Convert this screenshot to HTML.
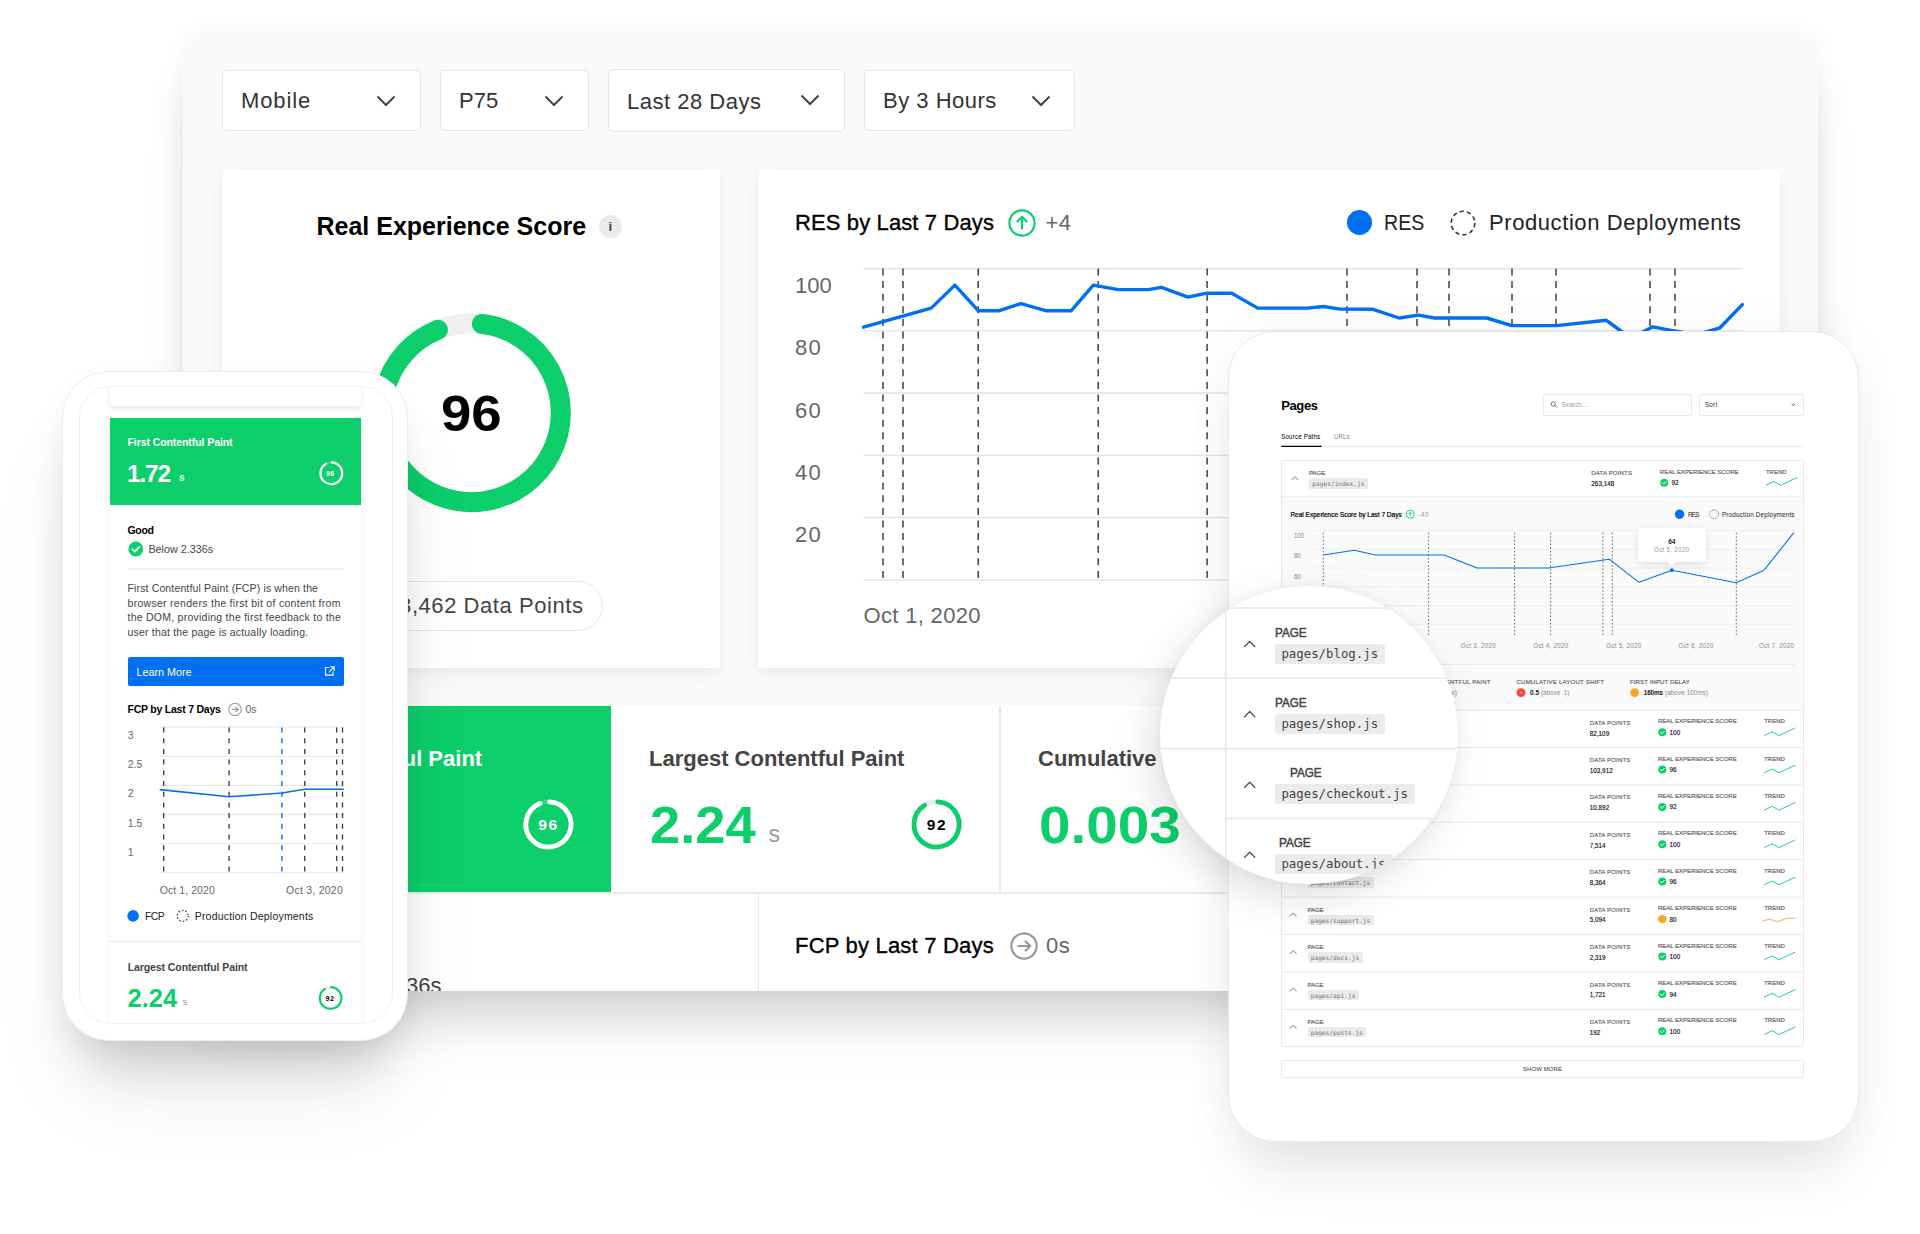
<!DOCTYPE html>
<html lang="en">
<head>
<meta charset="utf-8">
<title>Analytics</title>
<style>
*{box-sizing:border-box;margin:0;padding:0}
html,body{width:1920px;height:1234px;overflow:hidden;background:#fff}
body{position:relative;font-family:"Liberation Sans",sans-serif;color:#111}
.abs,.t{position:absolute}
.t{white-space:nowrap;line-height:1}
.mono{font-family:"DejaVu Sans Mono","Liberation Mono",monospace}
svg{position:absolute;overflow:visible}

/* main dashboard panel */
#panel{position:absolute;left:183px;top:31px;width:1635px;height:960px;background:#fafafa;border-radius:20px 20px 0 0;
 box-shadow:0 0 22px rgba(0,0,0,.04),0 36px 50px -14px rgba(0,0,0,.14),0 50px 70px -20px rgba(0,0,0,.06)}
#panelclip{position:absolute;left:183px;top:31px;width:1635px;height:960px;border-radius:20px 20px 0 0;overflow:hidden}
.dd{position:absolute;top:70px;height:61px;background:#fff;border:1px solid #e6e6e6;border-radius:5px}
.dd .t{left:18px;top:19px;font-size:22px;color:#333}
.dd svg{top:24px;width:20px;height:12px}
.pg{position:absolute;left:-183px;top:-31px;width:1920px;height:1234px}
.ylab{left:795px;font-size:22px;color:#666}
.big{font-size:51.5px;font-weight:700;color:#0cce6b;transform-origin:0 50%}
.card{position:absolute;background:#fff;box-shadow:0 6px 16px rgba(0,0,0,.06),0 0 3px rgba(0,0,0,.03);border-radius:3px}

#phone{position:absolute;left:62px;top:371px;width:346px;height:669.5px;background:#fff;border-radius:47px;border:1px solid #ededed;
 box-shadow:0 40px 50px -18px rgba(0,0,0,.14),0 60px 90px -20px rgba(0,0,0,.10),-4px 10px 30px rgba(0,0,0,.03)}
#phonescreen{position:absolute;left:78.5px;top:386px;width:314px;height:637.5px;border-radius:32px;background:#fff;border:1px solid #f0f0f0;overflow:hidden}
.pg2{position:absolute;left:-79.5px;top:-387px;width:1920px;height:1234px}

#tablet{position:absolute;left:1228px;top:331px;width:630.5px;height:811px;background:#fff;border-radius:47px;border:1px solid #e9e9e9;
 box-shadow:0 40px 60px -16px rgba(0,0,0,.11),0 0 50px rgba(0,0,0,.04)}
#tabletclip{position:absolute;left:1229px;top:332px;width:628.5px;height:809px;border-radius:46px;overflow:hidden}
.pg3{position:absolute;left:-1229px;top:-332px;width:1920px;height:1234px}

#mag{position:absolute;left:1159.7px;top:585.6px;width:298.6px;height:298.6px;border-radius:50%;background:#fff;overflow:hidden;
 box-shadow:-8px 14px 40px rgba(0,0,0,.13),0 0 12px rgba(0,0,0,.04)}
.pg4{position:absolute;left:-1159.7px;top:-585.6px;width:1920px;height:1234px}
</style>
</head>
<body>

<div id="panel"></div>
<div id="panelclip"><div class="pg">
  <!-- dropdowns -->
  <div class="dd" style="left:222px;width:199px"><span class="t" style="letter-spacing:.9px">Mobile</span><svg style="left:153px" viewBox="0 0 20 12"><path d="M1.5 1.5l8.5 8.5 8.5-8.5" fill="none" stroke="#444" stroke-width="2"/></svg></div>
  <div class="dd" style="left:440px;width:149px"><span class="t">P75</span><svg style="left:103px" viewBox="0 0 20 12"><path d="M1.5 1.5l8.5 8.5 8.5-8.5" fill="none" stroke="#444" stroke-width="2"/></svg></div>
  <div class="dd" style="left:608px;width:237px;top:69px;height:63px"><span class="t" style="letter-spacing:.5px;top:21px">Last 28 Days</span><svg style="left:191px;top:24px" viewBox="0 0 20 12"><path d="M1.5 1.5l8.5 8.5 8.5-8.5" fill="none" stroke="#444" stroke-width="2"/></svg></div>
  <div class="dd" style="left:864px;width:211px"><span class="t" style="letter-spacing:.5px">By 3 Hours</span><svg style="left:166px" viewBox="0 0 20 12"><path d="M1.5 1.5l8.5 8.5 8.5-8.5" fill="none" stroke="#444" stroke-width="2"/></svg></div>

  <!-- card 1 : Real Experience Score -->
  <div class="card" style="left:222px;top:170px;width:498px;height:498px"></div>
  <span class="t" style="left:316.5px;top:214px;font-size:25px;font-weight:700;color:#000">Real Experience Score</span>
  <div class="abs" style="left:599px;top:214.5px;width:23px;height:23px;border-radius:50%;background:#eaeaea"></div>
  <span class="t" style="left:608.6px;top:220px;font-size:13px;font-weight:700;color:#444">i</span>
  <svg style="left:0;top:0" width="1920" height="1234">
    <circle cx="471.4" cy="412.7" r="89.4" fill="none" stroke="#efefef" stroke-width="20"/>
    <path d="M481.83 323.91A89.4 89.4 0 1 1 437.91 329.81" fill="none" stroke="#0cce6b" stroke-width="20" stroke-linecap="round"/>
  </svg>
  <span class="t" style="left:441px;top:389px;font-size:50px;font-weight:700;color:#000;transform:scaleX(1.09);transform-origin:0 50%">96</span>
  <div class="abs" style="left:354px;top:581px;width:249px;height:50px;border:1px solid #e8e8e8;border-radius:25px;background:#fff"></div>
  <span class="t" style="left:373.5px;top:595px;font-size:22px;color:#444;letter-spacing:.56px">263,462 Data Points</span>

  <!-- card 2 : RES chart -->
  <div class="card" style="left:758px;top:170px;width:1022px;height:498px"></div>
  <span class="t" style="left:795px;top:212px;font-size:22px;color:#000;letter-spacing:.12px;-webkit-text-stroke:.35px #000">RES by Last 7 Days</span>
  <svg style="left:1008px;top:208.5px" width="28" height="28" viewBox="0 0 28 28"><circle cx="14" cy="14" r="12.6" fill="none" stroke="#0cce6b" stroke-width="2.2"/><path d="M14 20.5V8M8.8 13l5.2-5.2 5.2 5.2" fill="none" stroke="#0cce6b" stroke-width="2.2"/></svg>
  <span class="t" style="left:1045.5px;top:212px;font-size:22px;color:#666;letter-spacing:.5px">+4</span>
  <div class="abs" style="left:1346.5px;top:210px;width:25px;height:25px;border-radius:50%;background:#0070f3"></div>
  <span class="t" style="left:1384px;top:212px;font-size:22px;color:#222;transform:scaleX(.89);transform-origin:0 50%">RES</span>
  <svg style="left:1450px;top:209.5px" width="26" height="26" viewBox="0 0 26 26"><circle cx="13" cy="13" r="11.8" fill="none" stroke="#333" stroke-width="1.6" stroke-dasharray="4.2 3.21"/></svg>
  <span class="t" style="left:1489px;top:212px;font-size:22px;color:#222;letter-spacing:.58px">Production Deployments</span>
  <svg style="left:0;top:0" width="1920" height="1234">
    <g fill="none" stroke="#e6e6e6" stroke-width="1.6"><path d="M863.5 268.6H1743"/><path d="M863.5 330.8H1743"/><path d="M863.5 393.1H1743"/><path d="M863.5 455.3H1743"/><path d="M863.5 517.6H1743"/><path d="M863.5 580H1743"/></g>
    <g fill="none" stroke="#333" stroke-width="1.4" stroke-dasharray="7 5.6"><path d="M883 268.5V580"/><path d="M903 268.5V580"/><path d="M978.2 268.5V580"/><path d="M1098.2 268.5V580"/><path d="M1207.1 268.5V580"/><path d="M1347 268.5V580"/><path d="M1417 268.5V580"/><path d="M1449 268.5V580"/><path d="M1512 268.5V580"/><path d="M1556 268.5V580"/><path d="M1650 268.5V580"/><path d="M1675 268.5V580"/></g>
    <polyline points="863.5,326.6 931.2,307.5 954.9,284.5 978.2,310.1 999.3,310.1 1021,303 1045.7,310.1 1071.3,310.1 1093.3,284.5 1118.3,289 1148.4,289 1161.4,286.7 1188,296.5 1206.8,292.6 1231.7,292.6 1257.7,307.5 1307.3,307.5 1323.5,305.9 1340,308.5 1373,308.7 1399.2,317.4 1418.5,314.5 1434.2,317.4 1486.7,317.4 1511.8,325 1556.7,325 1606.3,319.7 1623.8,332.4 1638,333.6 1653,326.2 1673.3,330.2 1696.7,334 1720,327.2 1742.3,304" fill="none" stroke="#0070f3" stroke-width="3.4" stroke-linejoin="round" stroke-linecap="round" transform="translate(0 .6)"/>
  </svg>
  <span class="t ylab" style="top:275.4px">100</span><span class="t ylab" style="top:337.2px;letter-spacing:1.3px">80</span><span class="t ylab" style="top:399.6px;letter-spacing:1.3px">60</span><span class="t ylab" style="top:462px;letter-spacing:1.3px">40</span><span class="t ylab" style="top:524.4px;letter-spacing:1.3px">20</span>
  <span class="t" style="left:863.5px;top:604.5px;font-size:22px;color:#666;letter-spacing:.33px">Oct 1, 2020</span>

  <!-- metrics row -->
  <div class="abs" style="left:222px;top:706px;width:1558px;height:285px;background:#fff"></div>
  <div class="abs" style="left:222px;top:706px;width:389px;height:186.5px;background:#0cce6b"></div>
  <div class="abs" style="left:222px;top:892px;width:1558px;height:1.5px;background:#eaeaea"></div>
  <div class="abs" style="left:999.3px;top:706px;width:1.5px;height:186px;background:#eaeaea"></div>
  <div class="abs" style="left:757.6px;top:892px;width:1.5px;height:100px;background:#eaeaea"></div>
  <span class="t" style="left:258.5px;top:748px;font-size:22px;font-weight:700;color:#fff">First Contentful Paint</span>
  <span class="t big" style="left:258px;top:800px;color:#fff;transform:scaleX(1.055)">1.72</span>
  <svg style="left:0;top:0" width="1920" height="1234">
    <circle cx="548.4" cy="824.4" r="22.6" fill="none" stroke="rgba(255,255,255,.18)" stroke-width="4.8"/>
    <path d="M549.58 801.83A22.6 22.6 0 1 1 539.93 803.45" fill="none" stroke="#fff" stroke-width="4.8" stroke-linecap="round"/>
    <circle cx="936.6" cy="824.4" r="22.6" fill="none" stroke="#ececec" stroke-width="4.8"/>
    <path d="M937.78 801.83A22.6 22.6 0 1 1 924.62 805.23" fill="none" stroke="#0cce6b" stroke-width="4.8" stroke-linecap="round"/>
  </svg>
  <span class="t" style="left:538.3px;top:817px;font-size:15.5px;font-weight:700;color:#fff;letter-spacing:1.6px">96</span>
  <span class="t" style="left:926.8px;top:817px;font-size:15.5px;font-weight:700;color:#000;letter-spacing:1.6px">92</span>
  <span class="t" style="left:649px;top:748px;font-size:22px;font-weight:700;color:#444">Largest Contentful Paint</span>
  <span class="t big" style="left:649.5px;top:800px;transform:scaleX(1.055)">2.24</span>
  <span class="t" style="left:768.5px;top:823px;font-size:23px;color:#999">s</span>
  <span class="t" style="left:1038px;top:748px;font-size:22px;font-weight:700;color:#444">Cumulative Layout Shift</span>
  <span class="t big" style="left:1038.5px;top:800px;transform:scaleX(1.10)">0.003</span>
  <span class="t" style="left:309.5px;top:975px;font-size:22px;color:#444">Below 2.336s</span>
  <span class="t" style="left:795px;top:935px;font-size:22px;color:#000;letter-spacing:.2px;-webkit-text-stroke:.35px #000">FCP by Last 7 Days</span>
  <svg style="left:1009.5px;top:931.8px" width="28" height="28" viewBox="0 0 28 28"><circle cx="14" cy="14" r="12.6" fill="none" stroke="#999" stroke-width="2.2"/><path d="M7.5 14H20M15 8.8l5.2 5.2-5.2 5.2" fill="none" stroke="#999" stroke-width="2.2"/></svg>
  <span class="t" style="left:1046px;top:935px;font-size:22px;color:#666;letter-spacing:.5px">0s</span>
</div></div>

<!-- PHONE -->
<div id="phone"></div>
<div id="phonescreen"><div class="pg2">
  <div class="abs" style="left:110px;top:380px;width:251px;height:25.5px;background:#fff;box-shadow:0 2px 6px rgba(0,0,0,.10)"></div>
  <div class="abs" style="left:110px;top:417.5px;width:251px;height:640px;background:#fff;box-shadow:0 2px 8px rgba(0,0,0,.06)"></div>
  <div class="abs" style="left:110px;top:417.5px;width:251px;height:87.5px;background:#0cce6b"></div>
  <span class="t" style="left:127.5px;top:437px;font-size:10.5px;font-weight:700;color:#fff;letter-spacing:-.08px">First Contentful Paint</span>
  <span class="t" style="left:127px;top:461.5px;font-size:24.5px;font-weight:700;color:#fff;letter-spacing:-1.2px">1.72</span>
  <span class="t" style="left:179px;top:473px;font-size:10px;font-weight:700;color:#fff">s</span>
  <svg style="left:0;top:0" width="480" height="1234">
    <circle cx="331.3" cy="473.3" r="10.9" fill="none" stroke="rgba(255,255,255,.18)" stroke-width="2.2"/>
    <path d="M331.87 462.41A10.9 10.9 0 1 1 325.85 463.86" fill="none" stroke="#fff" stroke-width="2.2" stroke-linecap="round"/>
    <circle cx="135.8" cy="549" r="7.4" fill="#0cce6b"/>
    <path d="M132.3 549.2l2.5 2.5 4.6-4.9" fill="none" stroke="#fff" stroke-width="1.7" stroke-linecap="round" stroke-linejoin="round"/>
    <path d="M127.5 569H343.6" stroke="#eaeaea" stroke-width="1.2"/>
    <g fill="none" stroke="#e6e6e6" stroke-width="1.1"><path d="M159.7 727H343.8"/><path d="M159.7 756.3H343.8"/><path d="M159.7 785.5H343.8"/><path d="M159.7 814.6H343.8"/><path d="M159.7 843.7H343.8"/><path d="M159.7 872.7H343.8"/></g>
    <g fill="none" stroke="#444" stroke-width="1.4" stroke-dasharray="5 5.7"><path d="M163.7 727.5V872.7"/><path d="M229.1 727.5V872.7"/><path d="M304.7 727.5V872.7"/><path d="M336.7 727.5V872.7"/><path d="M342.5 727.5V872.7"/></g>
    <path d="M281.9 727.5V872.7" fill="none" stroke="#0070f3" stroke-width="1.4" stroke-dasharray="5 5.7"/>
    <polyline points="159.7,789.6 229.1,796.8 281.9,793 304.7,789.3 343.8,789.3" fill="none" stroke="#0070f3" stroke-width="1.6"/>
    <circle cx="133.1" cy="915.9" r="5.8" fill="#0070f3"/>
    <circle cx="182.8" cy="915.9" r="5.5" fill="none" stroke="#444" stroke-width="1.3" stroke-dasharray="1.6 1.856"/>
    <path d="M109.6 941.4H360.8" stroke="#eaeaea" stroke-width="1.2"/>
    <circle cx="235" cy="709.4" r="6.2" fill="none" stroke="#999" stroke-width="1.1"/>
    <path d="M231.8 709.4h6.2M235.6 706.8l2.6 2.6-2.6 2.6" fill="none" stroke="#999" stroke-width="1.1"/>
    <circle cx="330.6" cy="998" r="10.8" fill="none" stroke="#ececec" stroke-width="2.2"/>
    <path d="M331.17 987.21A10.8 10.8 0 1 1 324.88 988.84" fill="none" stroke="#0cce6b" stroke-width="2.2" stroke-linecap="round"/>
  </svg>
  <span class="t" style="left:326px;top:470px;font-size:7px;font-weight:700;color:#fff;letter-spacing:.3px">96</span>
  <span class="t" style="left:127.5px;top:524.5px;font-size:10.5px;font-weight:700;color:#000;letter-spacing:-.3px">Good</span>
  <span class="t" style="left:148.4px;top:543.5px;font-size:10.8px;color:#444">Below 2.336s</span>
  <span class="t" style="left:127.5px;top:582.8px;font-size:10.5px;color:#444;letter-spacing:0.14px">First Contentful Paint (FCP) is when the</span><span class="t" style="left:127.5px;top:597.8px;font-size:10.5px;color:#444;letter-spacing:0.29px">browser renders the first bit of content from</span><span class="t" style="left:127.5px;top:612.3px;font-size:10.5px;color:#444;letter-spacing:0.25px">the DOM, providing the first feedback to the</span><span class="t" style="left:127.5px;top:627.1px;font-size:10.5px;color:#444;letter-spacing:0.19px">user that the page is actually loading.</span>
  <div class="abs" style="left:127.5px;top:657px;width:216px;height:29px;background:#0070f3;border-radius:2px"></div>
  <span class="t" style="left:136.4px;top:666.6px;font-size:10.8px;color:#fff">Learn More</span>
  <svg style="left:0;top:0" width="480" height="1234"><path d="M328.8 667.5h-3.3v7.6h7.6v-3.3M330.6 666.8h3.6v3.6M334 667l-4.8 4.8" fill="none" stroke="#fff" stroke-width="1.1" stroke-linecap="round" stroke-linejoin="round"/></svg>
  <span class="t" style="left:127.5px;top:704.2px;font-size:10.5px;font-weight:700;color:#000;letter-spacing:-.23px">FCP by Last 7 Days</span>
  <span class="t" style="left:245.4px;top:704.2px;font-size:10.5px;color:#666">0s</span>
  <span class="t" style="left:127.7px;top:729.8px;font-size:10.5px;color:#666">3</span><span class="t" style="left:127.7px;top:759.0px;font-size:10.5px;color:#666">2.5</span><span class="t" style="left:127.7px;top:788.3px;font-size:10.5px;color:#666">2</span><span class="t" style="left:127.7px;top:817.6px;font-size:10.5px;color:#666">1.5</span><span class="t" style="left:127.7px;top:846.9px;font-size:10.5px;color:#666">1</span>
  <span class="t" style="left:159.7px;top:884.8px;font-size:10.5px;color:#666;letter-spacing:.08px">Oct 1, 2020</span>
  <span class="t" style="left:286px;top:884.8px;font-size:10.5px;color:#666;letter-spacing:.25px">Oct 3, 2020</span>
  <span class="t" style="left:145px;top:911.0px;font-size:10.5px;color:#222;letter-spacing:-.6px">FCP</span>
  <span class="t" style="left:194.7px;top:911.0px;font-size:10.5px;color:#222;letter-spacing:.2px">Production Deployments</span>
  <span class="t" style="left:127.7px;top:961.5px;font-size:10.5px;font-weight:700;color:#444;letter-spacing:-.09px">Largest Contentful Paint</span>
  <span class="t" style="left:127.5px;top:985.5px;font-size:25.5px;font-weight:700;color:#0cce6b">2.24</span>
  <span class="t" style="left:182.5px;top:996.5px;font-size:9.5px;color:#999">s</span>
  <span class="t" style="left:325.6px;top:994.6px;font-size:7.2px;font-weight:700;color:#000;letter-spacing:.3px">92</span>
</div></div>
<!-- TABLET -->
<div id="tablet"></div>
<div id="tabletclip"><div class="pg3">
<div class="abs" style="left:1543px;top:394.2px;width:149.3px;height:21.4px;border:1px solid #eaeaea;border-radius:2px;background:#fff"></div>
<div class="abs" style="left:1699px;top:394.2px;width:105.3px;height:21.4px;border:1px solid #eaeaea;border-radius:2px;background:#fff"></div>
<div class="abs" style="left:1281.3px;top:460px;width:523px;height:587px;border:1px solid #eaeaea;border-radius:2px;background:#fff"></div>
<div class="abs" style="left:1282.3px;top:495.6px;width:521px;height:214.5px;background:#fafafa;border-top:1px solid #f0f0f0"></div>
<div class="abs" style="left:1309.1px;top:478.3px;width:58.9px;height:10.3px;background:#eaeaea;border-radius:1.5px"></div>
<div class="abs" style="left:1307.5px;top:728.2px;width:55.2px;height:10.3px;background:#eaeaea;border-radius:1.5px"></div>
<div class="abs" style="left:1307.5px;top:765.4px;width:55.2px;height:10.3px;background:#eaeaea;border-radius:1.5px"></div>
<div class="abs" style="left:1307.5px;top:802.8px;width:70.1px;height:10.3px;background:#eaeaea;border-radius:1.5px"></div>
<div class="abs" style="left:1307.5px;top:840.2px;width:58.9px;height:10.3px;background:#eaeaea;border-radius:1.5px"></div>
<div class="abs" style="left:1307.5px;top:877.4px;width:66.4px;height:10.3px;background:#eaeaea;border-radius:1.5px"></div>
<div class="abs" style="left:1307.5px;top:915.0px;width:66.4px;height:10.3px;background:#eaeaea;border-radius:1.5px"></div>
<div class="abs" style="left:1307.5px;top:952.4px;width:55.2px;height:10.3px;background:#eaeaea;border-radius:1.5px"></div>
<div class="abs" style="left:1307.5px;top:989.9px;width:51.4px;height:10.3px;background:#eaeaea;border-radius:1.5px"></div>
<div class="abs" style="left:1307.5px;top:1027.2px;width:58.9px;height:10.3px;background:#eaeaea;border-radius:1.5px"></div>
<div class="abs" style="left:1281.3px;top:1059.8px;width:523px;height:18.4px;border:1px solid #eaeaea;border-radius:2px;background:#fff"></div>
<svg style="left:0;top:0" width="1920" height="1234"><circle cx="1553.2" cy="404" r="2.1" fill="none" stroke="#666" stroke-width=".9"/><path d="M1554.8 405.6l1.8 1.8" stroke="#666" stroke-width=".9" stroke-linecap="round"/>
<path d="M1791.6 403.6l2 2 2-2" fill="none" stroke="#444" stroke-width=".8"/>
<path d="M1281.2 446.6H1804.3" stroke="#eaeaea" stroke-width="1"/><path d="M1281.2 446.3H1321.6" stroke="#000" stroke-width="1.2"/>
<path d="M1291.8 480.0L1295.0 476.6L1298.2 480.0" fill="none" stroke="#555" stroke-width="0.8"/>
<circle cx="1664.2" cy="482.7" r="4" fill="#0cce6b"/><path d="M1662.3 482.8l1.4 1.4 2.5-2.7" fill="none" stroke="#fff" stroke-width=".95" stroke-linecap="round" stroke-linejoin="round"/>
<polyline points="1765.9,485.2 1773.7,481.4 1780.7,485.2 1797.1,477.6" fill="none" stroke="#0cce6b" stroke-width=".9" stroke-linejoin="round"/>
<path d="M1290.1 729.6L1293.3 726.2L1296.5 729.6" fill="none" stroke="#555" stroke-width="0.8"/>
<circle cx="1662.3000000000002" cy="732.3" r="4" fill="#0cce6b"/><path d="M1660.4 732.4l1.4 1.4 2.5-2.7" fill="none" stroke="#fff" stroke-width=".95" stroke-linecap="round" stroke-linejoin="round"/>
<polyline points="1764.2,735.5 1772.0,731.7 1779.0,735.5 1795.4,727.9" fill="none" stroke="#0cce6b" stroke-width=".9" stroke-linejoin="round"/>
<path d="M1282 710.3H1804" stroke="#eaeaea" stroke-width="1"/>
<path d="M1290.1 766.8L1293.3 763.4L1296.5 766.8" fill="none" stroke="#555" stroke-width="0.8"/>
<circle cx="1662.3000000000002" cy="769.5" r="4" fill="#0cce6b"/><path d="M1660.4 769.6l1.4 1.4 2.5-2.7" fill="none" stroke="#fff" stroke-width=".95" stroke-linecap="round" stroke-linejoin="round"/>
<polyline points="1764.2,772.7 1772.0,768.9 1779.0,772.7 1795.4,765.1" fill="none" stroke="#0cce6b" stroke-width=".9" stroke-linejoin="round"/>
<path d="M1282 747.5H1804" stroke="#eaeaea" stroke-width="1"/>
<path d="M1290.1 804.2L1293.3 800.8L1296.5 804.2" fill="none" stroke="#555" stroke-width="0.8"/>
<circle cx="1662.3000000000002" cy="806.9" r="4" fill="#0cce6b"/><path d="M1660.4 807.0l1.4 1.4 2.5-2.7" fill="none" stroke="#fff" stroke-width=".95" stroke-linecap="round" stroke-linejoin="round"/>
<polyline points="1764.2,810.1 1772.0,806.3 1779.0,810.1 1795.4,802.5" fill="none" stroke="#0cce6b" stroke-width=".9" stroke-linejoin="round"/>
<path d="M1282 784.9H1804" stroke="#eaeaea" stroke-width="1"/>
<path d="M1290.1 841.6L1293.3 838.2L1296.5 841.6" fill="none" stroke="#555" stroke-width="0.8"/>
<circle cx="1662.3000000000002" cy="844.3" r="4" fill="#0cce6b"/><path d="M1660.4 844.4l1.4 1.4 2.5-2.7" fill="none" stroke="#fff" stroke-width=".95" stroke-linecap="round" stroke-linejoin="round"/>
<polyline points="1764.2,847.5 1772.0,843.7 1779.0,847.5 1795.4,839.9" fill="none" stroke="#0cce6b" stroke-width=".9" stroke-linejoin="round"/>
<path d="M1282 822.3H1804" stroke="#eaeaea" stroke-width="1"/>
<path d="M1290.1 878.8L1293.3 875.4L1296.5 878.8" fill="none" stroke="#555" stroke-width="0.8"/>
<circle cx="1662.3000000000002" cy="881.5" r="4" fill="#0cce6b"/><path d="M1660.4 881.6l1.4 1.4 2.5-2.7" fill="none" stroke="#fff" stroke-width=".95" stroke-linecap="round" stroke-linejoin="round"/>
<polyline points="1764.2,884.7 1772.0,880.9 1779.0,884.7 1795.4,877.1" fill="none" stroke="#0cce6b" stroke-width=".9" stroke-linejoin="round"/>
<path d="M1282 859.5H1804" stroke="#eaeaea" stroke-width="1"/>
<path d="M1290.1 916.4L1293.3 913.0L1296.5 916.4" fill="none" stroke="#555" stroke-width="0.8"/>
<circle cx="1662.3000000000002" cy="919.1" r="4.2" fill="#f5a623"/>
<polyline points="1762.6000000000001,921.1 1769.6,919.1 1777.6,921.7 1786.6,918.3 1795.6,918.3" fill="none" stroke="#f5a623" stroke-width=".9" stroke-linejoin="round"/>
<path d="M1282 897.1H1804" stroke="#eaeaea" stroke-width="1"/>
<path d="M1290.1 953.8L1293.3 950.4L1296.5 953.8" fill="none" stroke="#555" stroke-width="0.8"/>
<circle cx="1662.3000000000002" cy="956.5" r="4" fill="#0cce6b"/><path d="M1660.4 956.6l1.4 1.4 2.5-2.7" fill="none" stroke="#fff" stroke-width=".95" stroke-linecap="round" stroke-linejoin="round"/>
<polyline points="1764.2,959.7 1772.0,955.9 1779.0,959.7 1795.4,952.1" fill="none" stroke="#0cce6b" stroke-width=".9" stroke-linejoin="round"/>
<path d="M1282 934.5H1804" stroke="#eaeaea" stroke-width="1"/>
<path d="M1290.1 991.3L1293.3 987.9L1296.5 991.3" fill="none" stroke="#555" stroke-width="0.8"/>
<circle cx="1662.3000000000002" cy="994" r="4" fill="#0cce6b"/><path d="M1660.4 994.1l1.4 1.4 2.5-2.7" fill="none" stroke="#fff" stroke-width=".95" stroke-linecap="round" stroke-linejoin="round"/>
<polyline points="1764.2,997.2 1772.0,993.4 1779.0,997.2 1795.4,989.6" fill="none" stroke="#0cce6b" stroke-width=".9" stroke-linejoin="round"/>
<path d="M1282 972.0H1804" stroke="#eaeaea" stroke-width="1"/>
<path d="M1290.1 1028.6L1293.3 1025.2L1296.5 1028.6" fill="none" stroke="#555" stroke-width="0.8"/>
<circle cx="1662.3000000000002" cy="1031.3" r="4" fill="#0cce6b"/><path d="M1660.4 1031.4l1.4 1.4 2.5-2.7" fill="none" stroke="#fff" stroke-width=".95" stroke-linecap="round" stroke-linejoin="round"/>
<polyline points="1764.2,1034.5 1772.0,1030.7 1779.0,1034.5 1795.4,1026.9" fill="none" stroke="#0cce6b" stroke-width=".9" stroke-linejoin="round"/>
<path d="M1282 1009.3H1804" stroke="#eaeaea" stroke-width="1"/>
<circle cx="1410.2" cy="514.3" r="4" fill="none" stroke="#0cce6b" stroke-width=".9"/><path d="M1410.2 516.4v-4M1408.5 514l1.7-1.7 1.7 1.7" fill="none" stroke="#0cce6b" stroke-width=".9"/>
<circle cx="1679.6" cy="514.2" r="4.7" fill="#0070f3"/><circle cx="1714" cy="514.2" r="4.4" fill="none" stroke="#444" stroke-width=".8" stroke-dasharray="1.2 1.1"/>
<g stroke="#ededed" stroke-width=".9"><path d="M1315 530.6H1796"/><path d="M1315 549.4H1796"/><path d="M1315 568.1H1796"/><path d="M1315 586.9H1796"/><path d="M1315 605.6H1796"/><path d="M1315 624.4H1796"/></g>
<g stroke="#555" stroke-width=".9" stroke-dasharray="1.5 2.1"><path d="M1323.3 532.7V635.5"/><path d="M1428.6 532.7V635.5"/><path d="M1514.6 532.7V635.5"/><path d="M1550.6 532.7V635.5"/><path d="M1602.9 532.7V635.5"/><path d="M1612.3 532.7V635.5"/><path d="M1736.3 532.7V635.5"/></g>
<polyline points="1323.3,555 1354.2,550.2 1375.6,555 1444,555 1477.1,567.9 1548.3,567.9 1609.2,559.2 1639,582.3 1671.9,570.2 1736.3,582.7 1764,570.2 1793.8,532.7" fill="none" stroke="#0070f3" stroke-width="1.05" stroke-linejoin="round"/>
<circle cx="1671.9" cy="570.2" r="1.9" fill="#0070f3"/>
<path d="M1290 664.6H1795.2" stroke="#eaeaea" stroke-width="1"/>
<circle cx="1521" cy="692.7" r="4.4" fill="#f44336"/><circle cx="1634.6" cy="692.7" r="4.4" fill="#f5a623"/>
<path d="M1519.6 691.3l2.8 2.8M1522.4 691.3l-2.8 2.8" stroke="#ffb74d" stroke-width=".8"/></svg>
<span class="t " style="left:1281.2px;top:399.0px;font-size:13px;color:#000;letter-spacing:-0.38px;font-weight:700;">Pages</span>
<span class="t " style="left:1561.6px;top:402.3px;font-size:6.3px;color:#999;letter-spacing:0.06px;">Search...</span>
<span class="t " style="left:1704.9px;top:402.3px;font-size:6.3px;color:#333;letter-spacing:0.25px;">Sort</span>
<span class="t " style="left:1281.2px;top:434.4px;font-size:6.3px;color:#000;letter-spacing:0.11px;">Source Paths</span>
<span class="t " style="left:1334.1px;top:434.4px;font-size:6.3px;color:#888;letter-spacing:-0.1px;">URLs</span>
<span class="t " style="left:1309.1px;top:470.2px;font-size:6.1px;color:#666;letter-spacing:-0.1px;-webkit-text-stroke:.18px #666;">PAGE</span>
<span class="t mono" style="left:1312.3px;top:481.0px;font-size:6.2px;color:#777;">pages/index.js</span>
<span class="t " style="left:1591.3px;top:470.2px;font-size:6px;color:#666;letter-spacing:0.18px;-webkit-text-stroke:.18px #666;">DATA POINTS</span>
<span class="t " style="left:1591.3px;top:480.8px;font-size:6.3px;color:#111;letter-spacing:0.04px;-webkit-text-stroke:.15px #111;">263,148</span>
<span class="t " style="left:1659.8px;top:468.7px;font-size:6px;color:#666;-webkit-text-stroke:.18px #666;">REAL EXPERIENCE SCORE</span>
<span class="t " style="left:1671.4px;top:480.2px;font-size:6.3px;color:#111;letter-spacing:0.1px;-webkit-text-stroke:.15px #111;">92</span>
<span class="t " style="left:1765.9px;top:468.7px;font-size:6px;color:#666;-webkit-text-stroke:.18px #666;">TREND</span>
<span class="t " style="left:1307.5px;top:719.8px;font-size:6.1px;color:#666;letter-spacing:-0.1px;-webkit-text-stroke:.18px #666;">PAGE</span>
<span class="t mono" style="left:1310.7px;top:730.9px;font-size:6.2px;color:#777;">pages/blog.js</span>
<span class="t " style="left:1589.7px;top:719.8px;font-size:6px;color:#666;letter-spacing:0.18px;-webkit-text-stroke:.18px #666;">DATA POINTS</span>
<span class="t " style="left:1589.7px;top:730.5px;font-size:6.3px;color:#111;letter-spacing:0.04px;-webkit-text-stroke:.15px #111;">82,109</span>
<span class="t " style="left:1657.9px;top:718.3px;font-size:6px;color:#666;-webkit-text-stroke:.18px #666;">REAL EXPERIENCE SCORE</span>
<span class="t " style="left:1669.5px;top:729.8px;font-size:6.3px;color:#111;letter-spacing:0.1px;-webkit-text-stroke:.15px #111;">100</span>
<span class="t " style="left:1764.2px;top:718.3px;font-size:6px;color:#666;-webkit-text-stroke:.18px #666;">TREND</span>
<span class="t " style="left:1307.5px;top:757.0px;font-size:6.1px;color:#666;letter-spacing:-0.1px;-webkit-text-stroke:.18px #666;">PAGE</span>
<span class="t mono" style="left:1310.7px;top:768.1px;font-size:6.2px;color:#777;">pages/shop.js</span>
<span class="t " style="left:1589.7px;top:757.0px;font-size:6px;color:#666;letter-spacing:0.18px;-webkit-text-stroke:.18px #666;">DATA POINTS</span>
<span class="t " style="left:1589.7px;top:767.7px;font-size:6.3px;color:#111;letter-spacing:0.04px;-webkit-text-stroke:.15px #111;">103,912</span>
<span class="t " style="left:1657.9px;top:755.5px;font-size:6px;color:#666;-webkit-text-stroke:.18px #666;">REAL EXPERIENCE SCORE</span>
<span class="t " style="left:1669.5px;top:767.0px;font-size:6.3px;color:#111;letter-spacing:0.1px;-webkit-text-stroke:.15px #111;">96</span>
<span class="t " style="left:1764.2px;top:755.5px;font-size:6px;color:#666;-webkit-text-stroke:.18px #666;">TREND</span>
<span class="t " style="left:1307.5px;top:794.4px;font-size:6.1px;color:#666;letter-spacing:-0.1px;-webkit-text-stroke:.18px #666;">PAGE</span>
<span class="t mono" style="left:1310.7px;top:805.5px;font-size:6.2px;color:#777;">pages/checkout.js</span>
<span class="t " style="left:1589.7px;top:794.4px;font-size:6px;color:#666;letter-spacing:0.18px;-webkit-text-stroke:.18px #666;">DATA POINTS</span>
<span class="t " style="left:1589.7px;top:805.1px;font-size:6.3px;color:#111;letter-spacing:0.04px;-webkit-text-stroke:.15px #111;">10,892</span>
<span class="t " style="left:1657.9px;top:792.9px;font-size:6px;color:#666;-webkit-text-stroke:.18px #666;">REAL EXPERIENCE SCORE</span>
<span class="t " style="left:1669.5px;top:804.4px;font-size:6.3px;color:#111;letter-spacing:0.1px;-webkit-text-stroke:.15px #111;">92</span>
<span class="t " style="left:1764.2px;top:792.9px;font-size:6px;color:#666;-webkit-text-stroke:.18px #666;">TREND</span>
<span class="t " style="left:1307.5px;top:831.8px;font-size:6.1px;color:#666;letter-spacing:-0.1px;-webkit-text-stroke:.18px #666;">PAGE</span>
<span class="t mono" style="left:1310.7px;top:842.9px;font-size:6.2px;color:#777;">pages/about.js</span>
<span class="t " style="left:1589.7px;top:831.8px;font-size:6px;color:#666;letter-spacing:0.18px;-webkit-text-stroke:.18px #666;">DATA POINTS</span>
<span class="t " style="left:1589.7px;top:842.5px;font-size:6.3px;color:#111;letter-spacing:0.04px;-webkit-text-stroke:.15px #111;">7,514</span>
<span class="t " style="left:1657.9px;top:830.3px;font-size:6px;color:#666;-webkit-text-stroke:.18px #666;">REAL EXPERIENCE SCORE</span>
<span class="t " style="left:1669.5px;top:841.8px;font-size:6.3px;color:#111;letter-spacing:0.1px;-webkit-text-stroke:.15px #111;">100</span>
<span class="t " style="left:1764.2px;top:830.3px;font-size:6px;color:#666;-webkit-text-stroke:.18px #666;">TREND</span>
<span class="t " style="left:1307.5px;top:869.0px;font-size:6.1px;color:#666;letter-spacing:-0.1px;-webkit-text-stroke:.18px #666;">PAGE</span>
<span class="t mono" style="left:1310.7px;top:880.1px;font-size:6.2px;color:#777;">pages/contact.js</span>
<span class="t " style="left:1589.7px;top:869.0px;font-size:6px;color:#666;letter-spacing:0.18px;-webkit-text-stroke:.18px #666;">DATA POINTS</span>
<span class="t " style="left:1589.7px;top:879.7px;font-size:6.3px;color:#111;letter-spacing:0.04px;-webkit-text-stroke:.15px #111;">8,364</span>
<span class="t " style="left:1657.9px;top:867.5px;font-size:6px;color:#666;-webkit-text-stroke:.18px #666;">REAL EXPERIENCE SCORE</span>
<span class="t " style="left:1669.5px;top:879.0px;font-size:6.3px;color:#111;letter-spacing:0.1px;-webkit-text-stroke:.15px #111;">96</span>
<span class="t " style="left:1764.2px;top:867.5px;font-size:6px;color:#666;-webkit-text-stroke:.18px #666;">TREND</span>
<span class="t " style="left:1307.5px;top:906.6px;font-size:6.1px;color:#666;letter-spacing:-0.1px;-webkit-text-stroke:.18px #666;">PAGE</span>
<span class="t mono" style="left:1310.7px;top:917.7px;font-size:6.2px;color:#777;">pages/support.js</span>
<span class="t " style="left:1589.7px;top:906.6px;font-size:6px;color:#666;letter-spacing:0.18px;-webkit-text-stroke:.18px #666;">DATA POINTS</span>
<span class="t " style="left:1589.7px;top:917.3px;font-size:6.3px;color:#111;letter-spacing:0.04px;-webkit-text-stroke:.15px #111;">5,094</span>
<span class="t " style="left:1657.9px;top:905.1px;font-size:6px;color:#666;-webkit-text-stroke:.18px #666;">REAL EXPERIENCE SCORE</span>
<span class="t " style="left:1669.5px;top:916.6px;font-size:6.3px;color:#111;letter-spacing:0.1px;-webkit-text-stroke:.15px #111;">80</span>
<span class="t " style="left:1764.2px;top:905.1px;font-size:6px;color:#666;-webkit-text-stroke:.18px #666;">TREND</span>
<span class="t " style="left:1307.5px;top:944.0px;font-size:6.1px;color:#666;letter-spacing:-0.1px;-webkit-text-stroke:.18px #666;">PAGE</span>
<span class="t mono" style="left:1310.7px;top:955.1px;font-size:6.2px;color:#777;">pages/docs.js</span>
<span class="t " style="left:1589.7px;top:944.0px;font-size:6px;color:#666;letter-spacing:0.18px;-webkit-text-stroke:.18px #666;">DATA POINTS</span>
<span class="t " style="left:1589.7px;top:954.7px;font-size:6.3px;color:#111;letter-spacing:0.04px;-webkit-text-stroke:.15px #111;">2,319</span>
<span class="t " style="left:1657.9px;top:942.5px;font-size:6px;color:#666;-webkit-text-stroke:.18px #666;">REAL EXPERIENCE SCORE</span>
<span class="t " style="left:1669.5px;top:954.0px;font-size:6.3px;color:#111;letter-spacing:0.1px;-webkit-text-stroke:.15px #111;">100</span>
<span class="t " style="left:1764.2px;top:942.5px;font-size:6px;color:#666;-webkit-text-stroke:.18px #666;">TREND</span>
<span class="t " style="left:1307.5px;top:981.5px;font-size:6.1px;color:#666;letter-spacing:-0.1px;-webkit-text-stroke:.18px #666;">PAGE</span>
<span class="t mono" style="left:1310.7px;top:992.6px;font-size:6.2px;color:#777;">pages/api.js</span>
<span class="t " style="left:1589.7px;top:981.5px;font-size:6px;color:#666;letter-spacing:0.18px;-webkit-text-stroke:.18px #666;">DATA POINTS</span>
<span class="t " style="left:1589.7px;top:992.2px;font-size:6.3px;color:#111;letter-spacing:0.04px;-webkit-text-stroke:.15px #111;">1,721</span>
<span class="t " style="left:1657.9px;top:980.0px;font-size:6px;color:#666;-webkit-text-stroke:.18px #666;">REAL EXPERIENCE SCORE</span>
<span class="t " style="left:1669.5px;top:991.5px;font-size:6.3px;color:#111;letter-spacing:0.1px;-webkit-text-stroke:.15px #111;">94</span>
<span class="t " style="left:1764.2px;top:980.0px;font-size:6px;color:#666;-webkit-text-stroke:.18px #666;">TREND</span>
<span class="t " style="left:1307.5px;top:1018.8px;font-size:6.1px;color:#666;letter-spacing:-0.1px;-webkit-text-stroke:.18px #666;">PAGE</span>
<span class="t mono" style="left:1310.7px;top:1029.9px;font-size:6.2px;color:#777;">pages/posts.js</span>
<span class="t " style="left:1589.7px;top:1018.8px;font-size:6px;color:#666;letter-spacing:0.18px;-webkit-text-stroke:.18px #666;">DATA POINTS</span>
<span class="t " style="left:1589.7px;top:1029.5px;font-size:6.3px;color:#111;letter-spacing:0.04px;-webkit-text-stroke:.15px #111;">192</span>
<span class="t " style="left:1657.9px;top:1017.3px;font-size:6px;color:#666;-webkit-text-stroke:.18px #666;">REAL EXPERIENCE SCORE</span>
<span class="t " style="left:1669.5px;top:1028.8px;font-size:6.3px;color:#111;letter-spacing:0.1px;-webkit-text-stroke:.15px #111;">100</span>
<span class="t " style="left:1764.2px;top:1017.3px;font-size:6px;color:#666;-webkit-text-stroke:.18px #666;">TREND</span>
<span class="t " style="left:1290.4px;top:511.5px;font-size:6.5px;color:#000;-webkit-text-stroke:.2px #000;">Real Experience Score by Last 7 Days</span>
<span class="t " style="left:1418.4px;top:511.6px;font-size:6.3px;color:#999;letter-spacing:0.5px;">-40</span>
<span class="t " style="left:1687.9px;top:511.6px;font-size:6.3px;color:#222;letter-spacing:-0.7px;">RES</span>
<span class="t " style="left:1721.9px;top:511.6px;font-size:6.3px;color:#222;letter-spacing:0.19px;">Production Deployments</span>
<span class="t " style="left:1294.0px;top:532.5px;font-size:6.3px;color:#888;letter-spacing:-0.3px;">100</span>
<span class="t " style="left:1294.0px;top:553.4px;font-size:6.3px;color:#888;letter-spacing:-0.3px;">80</span>
<span class="t " style="left:1294.0px;top:574.4px;font-size:6.3px;color:#888;letter-spacing:-0.3px;">60</span>
<span class="t " style="left:1294.0px;top:595.3px;font-size:6.3px;color:#888;letter-spacing:-0.3px;">40</span>
<span class="t " style="left:1294.0px;top:616.3px;font-size:6.3px;color:#888;letter-spacing:-0.3px;">20</span>
<span class="t " style="left:1388.0px;top:643.1px;font-size:6.3px;color:#888;letter-spacing:0.24px;">Oct 2, 2020</span>
<span class="t " style="left:1460.8px;top:643.1px;font-size:6.3px;color:#888;letter-spacing:0.24px;">Oct 3, 2020</span>
<span class="t " style="left:1533.3px;top:643.1px;font-size:6.3px;color:#888;letter-spacing:0.24px;">Oct 4, 2020</span>
<span class="t " style="left:1606.3px;top:643.1px;font-size:6.3px;color:#888;letter-spacing:0.24px;">Oct 5, 2020</span>
<span class="t " style="left:1678.5px;top:643.1px;font-size:6.3px;color:#888;letter-spacing:0.24px;">Oct 6, 2020</span>
<span class="t " style="left:1759.0px;top:643.1px;font-size:6.3px;color:#888;letter-spacing:0.24px;">Oct 7, 2020</span>
<span class="t " style="left:1396.5px;top:679.2px;font-size:6px;color:#666;letter-spacing:0.23px;-webkit-text-stroke:.18px #666;">LARGEST CONTENTFUL PAINT</span>
<span class="t " style="left:1422.5px;top:690.1px;font-size:6.3px;color:#888;">(below 2.5s)</span>
<span class="t " style="left:1516.5px;top:679.2px;font-size:6px;color:#666;letter-spacing:0.23px;-webkit-text-stroke:.18px #666;">CUMULATIVE LAYOUT SHIFT</span>
<span class="t " style="left:1530.0px;top:690.1px;font-size:6.3px;color:#111;letter-spacing:0.1px;font-weight:700;">0.5</span>
<span class="t " style="left:1541.0px;top:690.1px;font-size:6.3px;color:#888;">(above .1)</span>
<span class="t " style="left:1630.0px;top:679.2px;font-size:6px;color:#666;letter-spacing:0.13px;-webkit-text-stroke:.18px #666;">FIRST INPUT DELAY</span>
<span class="t " style="left:1643.8px;top:690.1px;font-size:6.3px;color:#111;letter-spacing:-0.13px;font-weight:700;">160ms</span>
<span class="t " style="left:1665.0px;top:690.1px;font-size:6.3px;color:#888;letter-spacing:0.09px;">(above 100ms)</span>
<span class="t " style="left:1523.0px;top:1065.8px;font-size:6px;color:#333;letter-spacing:0.08px;">SHOW MORE</span>
<div class="abs" style="left:1637.9px;top:528.1px;width:68.4px;height:33.8px;background:#fff;border-radius:3px;box-shadow:0 2px 8px rgba(0,0,0,.12)"></div>
<div class="abs" style="left:1669.1px;top:559.1px;width:5.6px;height:5.6px;background:#fff;transform:rotate(45deg)"></div>
<span class="t " style="left:1668.2px;top:538.8px;font-size:6.5px;color:#222;font-weight:700;">64</span><span class="t " style="left:1654.0px;top:546.8px;font-size:6.3px;color:#999;letter-spacing:0.24px;">Oct 5, 2020</span>
</div></div>
<!-- MAGNIFIER -->
<div id="mag"><div class="pg4">
<svg style="left:0;top:0" width="1920" height="1234">
<g stroke="#e6e6e6" stroke-width="1.5"><path d="M1225.6 560V900"/><path d="M1225.6 608H1480"/><path d="M1140 678.3H1480"/><path d="M1140 748.4H1480"/><path d="M1225.6 818.4H1480"/></g>
<path d="M1244.2 647.1l5.5-5.6 5.5 5.6" fill="none" stroke="#555" stroke-width="1.4"/><path d="M1244.2 717.2l5.5-5.6 5.5 5.6" fill="none" stroke="#555" stroke-width="1.4"/><path d="M1244.2 787.8l5.5-5.6 5.5 5.6" fill="none" stroke="#555" stroke-width="1.4"/><path d="M1244.2 857.8l5.5-5.6 5.5 5.6" fill="none" stroke="#555" stroke-width="1.4"/>
</svg>
<span class="t" style="left:1275.2px;top:626.8px;font-size:13px;color:#444;transform:scaleX(.9);transform-origin:0 50%;margin-top:-.8px;-webkit-text-stroke:.5px #444">PAGE</span>
<div class="abs" style="left:1275.2px;top:643.8px;width:109.9px;height:19.8px;background:#ebebeb;border-radius:2px"></div>
<span class="t mono" style="left:1281.4px;top:647.7px;font-size:12.36px;color:#444">pages/blog.js</span>
<span class="t" style="left:1275.2px;top:696.9px;font-size:13px;color:#444;transform:scaleX(.9);transform-origin:0 50%;margin-top:-.8px;-webkit-text-stroke:.5px #444">PAGE</span>
<div class="abs" style="left:1275.2px;top:713.9px;width:109.9px;height:19.8px;background:#ebebeb;border-radius:2px"></div>
<span class="t mono" style="left:1281.4px;top:717.8px;font-size:12.36px;color:#444">pages/shop.js</span>
<span class="t" style="left:1290px;top:767.2px;font-size:13px;color:#444;transform:scaleX(.9);transform-origin:0 50%;margin-top:-.8px;-webkit-text-stroke:.5px #444">PAGE</span>
<div class="abs" style="left:1275.2px;top:784px;width:139.7px;height:19.8px;background:#ebebeb;border-radius:2px"></div>
<span class="t mono" style="left:1281.4px;top:787.9px;font-size:12.36px;color:#444">pages/checkout.js</span>
<span class="t" style="left:1279px;top:837.2px;font-size:13px;color:#444;transform:scaleX(.9);transform-origin:0 50%;margin-top:-.8px;-webkit-text-stroke:.5px #444">PAGE</span>
<div class="abs" style="left:1275.2px;top:854.2px;width:117.4px;height:19.8px;background:#ebebeb;border-radius:2px"></div>
<span class="t mono" style="left:1281.4px;top:858.1px;font-size:12.36px;color:#444">pages/about.js</span>
</div></div>

</body>
</html>
